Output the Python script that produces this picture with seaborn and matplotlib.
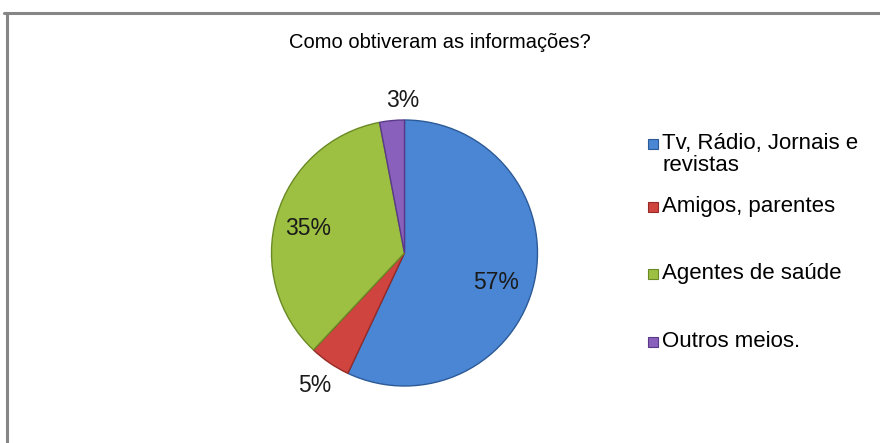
import matplotlib
matplotlib.use("Agg")
import matplotlib.pyplot as plt
import seaborn as sns
import numpy as np
from matplotlib.lines import Line2D

sns.set_theme(style="white")
plt.rcParams['font.family'] = ['Liberation Sans', 'DejaVu Sans']

title = "Como obtiveram as informações?"
categories = ["Tv, Rádio, Jornais e\nrevistas", "Amigos, parentes", "Agentes de saúde", "Outros meios."]
values = [57, 5, 35, 3]
pct_labels = ["57%", "5%", "35%", "3%"]

colors = ["#4a86d4", "#d0443f", "#9dc043", "#8a60bd"]
edge_colors = ["#2c5a97", "#952a26", "#6a8a25", "#5a3a88"]
label_dist = [0.72, 1.2, 0.75, 1.15]
label_ang_off = [-5.4, 0.0, 1.7, -4.7]

W, H = 880, 443
fig = plt.figure(figsize=(W / 100, H / 100), dpi=100)
fig.patch.set_facecolor("white")

# frame (top and left edges visible)
fig.add_artist(Line2D([4 / W, 1.0], [1 - 13 / H, 1 - 13 / H], color="#868686", lw=2.2, transform=fig.transFigure))
fig.add_artist(Line2D([7 / W, 7 / W], [0, 1 - 13 / H], color="#868686", lw=2.2, transform=fig.transFigure))

cx, cy, r = 404.5, 253, 133
ax = fig.add_axes([(cx - r) / W, (H - cy - r) / H, 2 * r / W, 2 * r / H])
wedges, _ = ax.pie(values, colors=colors, startangle=90, counterclock=False,
                   wedgeprops=dict(linewidth=1.0))
for w, ec in zip(wedges, edge_colors):
    w.set_edgecolor(ec)
ax.set_xlim(-1, 1)
ax.set_ylim(-1, 1)
ax.set_aspect("equal")
ax.axis("off")

# percentage labels placed relative to slice mid-angles
for w, lab, d, off in zip(wedges, pct_labels, label_dist, label_ang_off):
    ang = np.deg2rad((w.theta1 + w.theta2) / 2 + off)
    ax.text(d * np.cos(ang), d * np.sin(ang), lab, ha="center", va="center",
            fontsize=16.5, color="#1a1a1a", clip_on=False)

fig.text(0.5, 1 - 43 / H, title, ha="center", va="center", fontsize=14.5, color="black")

# legend (Excel-like irregular spacing)
legend_top = [133, 196, 263, 331]
for lab, c, ec, ty in zip(categories, colors, edge_colors, legend_top):
    fig.text(662 / W, 1 - ty / H, lab, ha="left", va="top", fontsize=16,
             color="black", linespacing=1.05)
    fig.add_artist(Line2D([653 / W], [1 - (ty + 11) / H], marker="s", linestyle="none",
                          markersize=6.8, markerfacecolor=c, markeredgecolor=ec,
                          markeredgewidth=0.8, transform=fig.transFigure))

fig.savefig("out.png", dpi=100, facecolor="white")
